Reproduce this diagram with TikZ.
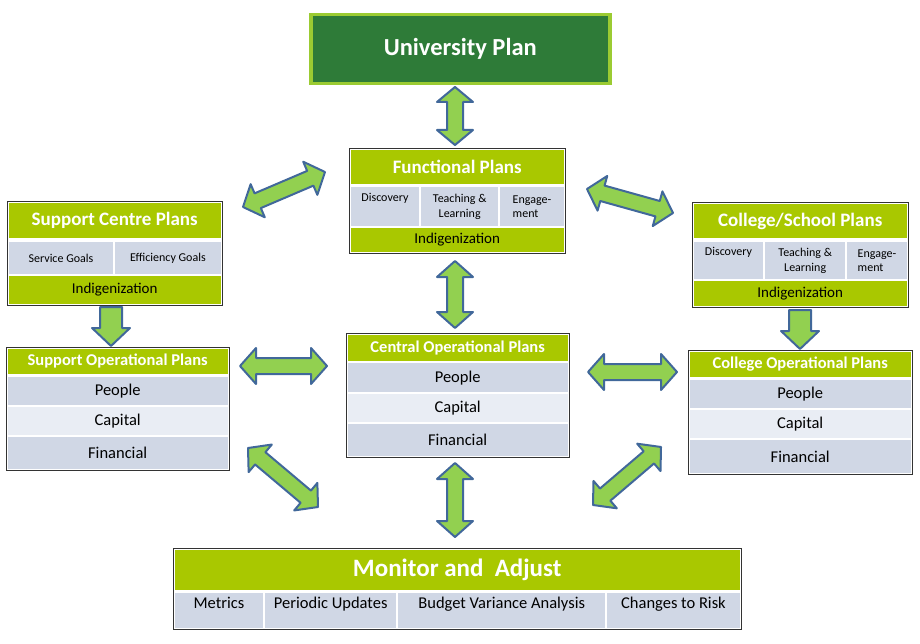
\documentclass[tikz,border=0pt]{standalone}
\usepackage{fontspec}
\setmainfont{Carlito}
\usepackage{tikz}
\usetikzlibrary{calc, positioning}

\definecolor{unigreen}{HTML}{2E7B38}
\definecolor{uniborder}{HTML}{9BCB32}
\definecolor{hdrgreen}{HTML}{A9C800}
\definecolor{cellblue}{HTML}{D0D7E5}
\definecolor{celllight}{HTML}{E9EDF4}
\definecolor{arrgreen}{HTML}{92D050}
\definecolor{arrblue}{HTML}{41689A}

% block arrows: start, end, head length, shaft half width, head half width
\newcommand{\dblarrow}[5]{%
  \coordinate (ha) at ($(#1)!#3!(#2)$);
  \coordinate (hb) at ($(#2)!#3!(#1)$);
  \draw[blockarr] (#1) -- ($(ha)!#5!90:(#2)$) -- ($(ha)!#4!90:(#2)$)
    -- ($(hb)!#4!-90:(#1)$) -- ($(hb)!#5!-90:(#1)$) -- (#2)
    -- ($(hb)!#5!90:(#1)$) -- ($(hb)!#4!90:(#1)$)
    -- ($(ha)!#4!-90:(#2)$) -- ($(ha)!#5!-90:(#2)$) -- cycle;}
\newcommand{\sglarrow}[5]{%
  \coordinate (hb) at ($(#2)!#3!(#1)$);
  \draw[blockarr] ($(#1)!#4!90:(#2)$) -- ($(hb)!#4!-90:(#1)$)
    -- ($(hb)!#5!-90:(#1)$) -- (#2) -- ($(hb)!#5!90:(#1)$)
    -- ($(hb)!#4!90:(#1)$) -- ($(#1)!#4!-90:(#2)$) -- cycle;}

\begin{document}
\begin{tikzpicture}[
        x=1pt, y=-1pt,
        frame/.style={draw=black!80, line width=1.3pt, fill=white, anchor=north west, inner sep=0pt},
        hdr/.style={fill=hdrgreen, text=white, anchor=north west, inner sep=0pt, font=\bfseries\fontsize{19}{22}\selectfont},
        ophdr/.style={hdr, font=\bfseries\fontsize{16.5}{19}\selectfont},
        band/.style={fill=hdrgreen, anchor=north west, inner sep=0pt, font=\fontsize{15}{18}\selectfont},
        cell/.style={fill=cellblue, anchor=north west, inner sep=0pt, align=center, font=\fontsize{12}{14.5}\selectfont},
        row/.style={fill=cellblue, anchor=north west, inner sep=0pt, align=center, font=\fontsize{16.5}{19}\selectfont},
        rowlight/.style={row, fill=celllight},
        topcell/.style={row, text height=15pt, text depth=19.5pt},
        blockarr/.style={fill=arrgreen, draw=arrblue, line width=2pt, line join=round}
    ]
    \useasboundingbox (0,0) rectangle (920,644);

    % University plan
    \node[draw=uniborder, line width=3.5pt, fill=unigreen, text=white, anchor=north west,
          font=\bfseries\fontsize{24.5}{28}\selectfont, minimum width=299pt, minimum height=69pt] (univ_plan) at (309,13) {University Plan};

    % Functional plans
    \node[frame, minimum width=216pt, minimum height=105pt] (func_plans) at (349,148) {};
    \node[hdr, minimum width=213pt, minimum height=34.5pt] (func_head) at (350.5,149.5) {Functional Plans};
    \node[cell, minimum width=68.5pt, minimum height=39pt] (func_disc) at (350.5,187) {Discovery\\\strut};
    \node[cell, minimum width=77pt, minimum height=39pt] (func_teach) at (421,187) {Teaching \&\\Learning};
    \node[cell, align=left, minimum width=63.5pt, minimum height=39pt] (func_eng) at (500,187) {Engage-\\ment};
    \node[band, minimum width=213pt, minimum height=23.5pt] (func_indig) at (350.5,228) {Indigenization};

    % Support centre plans
    \node[frame, minimum width=215pt, minimum height=104pt] (supp_plans) at (7,201) {};
    \node[hdr, minimum width=212pt, minimum height=35.5pt] (supp_head) at (8.5,202.5) {Support Centre Plans};
    \node[cell, minimum width=104.5pt, minimum height=32pt] (supp_serv) at (8.5,242) {Service Goals};
    \node[cell, minimum width=105.5pt, minimum height=32pt] (supp_eff) at (115,242) {Efficiency Goals};
    \node[band, minimum width=212pt, minimum height=27.5pt] (supp_indig) at (8.5,276) {Indigenization};

    % College/school plans
    \node[frame, minimum width=216pt, minimum height=105pt] (coll_plans) at (692,202) {};
    \node[hdr, minimum width=213pt, minimum height=34.5pt] (coll_head) at (693.5,203.5) {College/School Plans};
    \node[cell, minimum width=69.5pt, minimum height=37pt] (coll_disc) at (693.5,242) {Discovery\\\strut};
    \node[cell, minimum width=80pt, minimum height=37pt] (coll_teach) at (765,242) {Teaching \&\\Learning};
    \node[cell, align=left, minimum width=59.5pt, minimum height=37pt] (coll_eng) at (847,242) {Engage-\\ment};
    \node[band, minimum width=213pt, minimum height=24.5pt] (coll_indig) at (693.5,281) {Indigenization};

    % Operational plans
    \node[frame, minimum width=223pt, minimum height=123pt] (supp_op) at (6,347) {};
    \node[ophdr, minimum width=220pt, minimum height=25.5pt] (supp_op_head) at (7.5,348.5) {Support Operational Plans};
    \node[row, minimum width=220pt, minimum height=28pt] (supp_people) at (7.5,377) {People};
    \node[rowlight, minimum width=220pt, minimum height=28pt] (supp_capital) at (7.5,407) {Capital};
    \node[row, minimum width=220pt, minimum height=31.5pt] (supp_fin) at (7.5,437) {Financial};

    \node[frame, minimum width=223pt, minimum height=124pt] (cent_op) at (346,333) {};
    \node[ophdr, minimum width=220pt, minimum height=26.5pt] (cent_op_head) at (347.5,334.5) {Central Operational Plans};
    \node[row, minimum width=220pt, minimum height=29pt] (cent_people) at (347.5,363) {People};
    \node[rowlight, minimum width=220pt, minimum height=28pt] (cent_capital) at (347.5,394) {Capital};
    \node[row, minimum width=220pt, minimum height=31.5pt] (cent_fin) at (347.5,424) {Financial};

    \node[frame, minimum width=224pt, minimum height=124pt] (coll_op) at (688,350) {};
    \node[ophdr, minimum width=221pt, minimum height=25.5pt] (coll_op_head) at (689.5,351.5) {College Operational Plans};
    \node[row, minimum width=221pt, minimum height=28pt] (coll_people) at (689.5,380) {People};
    \node[rowlight, minimum width=221pt, minimum height=28pt] (coll_capital) at (689.5,410) {Capital};
    \node[row, minimum width=221pt, minimum height=32.5pt] (coll_fin) at (689.5,440) {Financial};

    % Monitor and adjust
    \node[frame, minimum width=568pt, minimum height=81pt] (monitor) at (173,548) {};
    \node[hdr, font=\bfseries\fontsize{25}{29}\selectfont, minimum width=565pt, minimum height=40.5pt] (mon_head) at (174.5,549.5) {Monitor and\ \ Adjust};
    \node[topcell, minimum width=88.5pt] (mon_metrics) at (174.5,593) {Metrics};
    \node[topcell, minimum width=131pt] (mon_updates) at (265,593) {Periodic Updates};
    \node[topcell, minimum width=207pt] (mon_budget) at (398,593) {Budget Variance Analysis};
    \node[topcell, minimum width=132.5pt] (mon_risk) at (607,593) {Changes to Risk};

    % Arrow ends
    \coordinate (univ_a) at (455,87);     \coordinate (func_a) at (455,145);
    \coordinate (supp_b) at (243,207);    \coordinate (func_b) at (325,172);
    \coordinate (func_c) at (587,189);    \coordinate (coll_c) at (673,213);
    \coordinate (supp_d) at (111,307);    \coordinate (suppop_d) at (111,346);
    \coordinate (coll_e) at (800,310);    \coordinate (collop_e) at (800,349);
    \coordinate (func_f) at (455,261);    \coordinate (centop_f) at (455,328);
    \coordinate (suppop_g) at (240,366);  \coordinate (centop_g) at (327,366);
    \coordinate (centop_h) at (588,372);  \coordinate (collop_h) at (677,372);
    \coordinate (suppop_i) at (248,448);  \coordinate (mon_i) at (318,507);
    \coordinate (centop_j) at (455,463);  \coordinate (mon_j) at (455,537);
    \coordinate (collop_k) at (661,447);  \coordinate (mon_k) at (593,505);

    % Block arrows
    \dblarrow{univ_a}{func_a}{15pt}{8pt}{18pt}
    \dblarrow{supp_b}{func_b}{16pt}{8pt}{18pt}
    \dblarrow{func_c}{coll_c}{16pt}{8pt}{18pt}
    \sglarrow{supp_d}{suppop_d}{18pt}{11pt}{19pt}
    \sglarrow{coll_e}{collop_e}{18pt}{11pt}{19pt}
    \dblarrow{func_f}{centop_f}{16pt}{8pt}{18pt}
    \dblarrow{suppop_g}{centop_g}{16pt}{8pt}{18pt}
    \dblarrow{centop_h}{collop_h}{16pt}{8pt}{18pt}
    \dblarrow{suppop_i}{mon_i}{16pt}{8pt}{18pt}
    \dblarrow{centop_j}{mon_j}{16pt}{8pt}{18pt}
    \dblarrow{collop_k}{mon_k}{16pt}{8pt}{18pt}
\end{tikzpicture}
\end{document}
